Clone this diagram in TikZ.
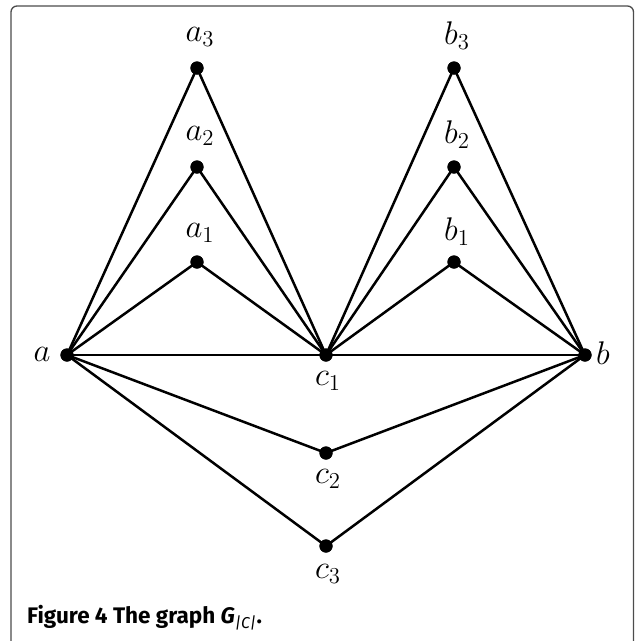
\documentclass[tikz,border=0pt]{standalone}
\usepackage{fontspec}
\newfontfamily\capfont{Fira Sans}
\begin{document}
\begin{tikzpicture}[x=1pt,y=-1pt,
  vtx/.style={circle,fill=black,inner sep=0pt,minimum size=13pt},
  lbl/.style={inner sep=0pt,scale=1.58,font=\fontsize{20.74}{25}\selectfont},
  edge/.style={line width=2.5pt,black}]
\useasboundingbox (0,0) rectangle (635,641);
\draw[line width=1.3pt,color=black!70,rounded corners=6pt] (11,641) -- (11,6) -- (633.5,6) -- (633.5,641);
% vertices
\node[vtx] (a) at (67,355) {};
\node[vtx] (c1) at (326,355) {};
\node[vtx] (b) at (585,355) {};
\node[vtx] (a3) at (197,68) {};
\node[vtx] (a2) at (197,167) {};
\node[vtx] (a1) at (197,262) {};
\node[vtx] (b3) at (454,68) {};
\node[vtx] (b2) at (454,167) {};
\node[vtx] (b1) at (454,262) {};
\node[vtx] (c2) at (326,453) {};
\node[vtx] (c3) at (326,546) {};
% edges
\foreach \u in {a1,a2,a3,b1,b2,b3} {\draw[edge] (\u.center) -- (c1.center);}
\foreach \u in {a1,a2,a3} {\draw[edge] (a.center) -- (\u.center);}
\foreach \u in {b1,b2,b3} {\draw[edge] (b.center) -- (\u.center);}
\draw[edge] (a.center) -- (c1.center) -- (b.center);
\draw[edge] (a.center) -- (c2.center) -- (b.center);
\draw[edge] (a.center) -- (c3.center) -- (b.center);
% redraw vertices on top
\foreach \u in {a,b,c1,c2,c3,a1,a2,a3,b1,b2,b3} {\fill (\u) circle (6.6pt);}
% labels
\node[lbl] (la) at (42,354) {$a$};
\node[lbl] (lb) at (603,353) {$b$};
\node[lbl] (la3) at (200,37) {$a_3$};
\node[lbl] (la2) at (200,136) {$a_2$};
\node[lbl] (la1) at (200,233) {$a_1$};
\node[lbl] (lb3) at (457,36) {$b_3$};
\node[lbl] (lb2) at (457,135) {$b_2$};
\node[lbl] (lb1) at (457,232) {$b_1$};
\node[lbl] (lc1) at (328,381) {$c_1$};
\node[lbl] (lc2) at (328,479) {$c_2$};
\node[lbl] (lc3) at (328,574) {$c_3$};
\node[anchor=base west,inner sep=0pt,font=\capfont\fontsize{22.5}{26}\selectfont] (cap) at (27,623)
  {\textbf{Figure 4 The graph \textit{G}}\textsubscript{\textit{|C|}}\textbf{.}};
\end{tikzpicture}
\end{document}
